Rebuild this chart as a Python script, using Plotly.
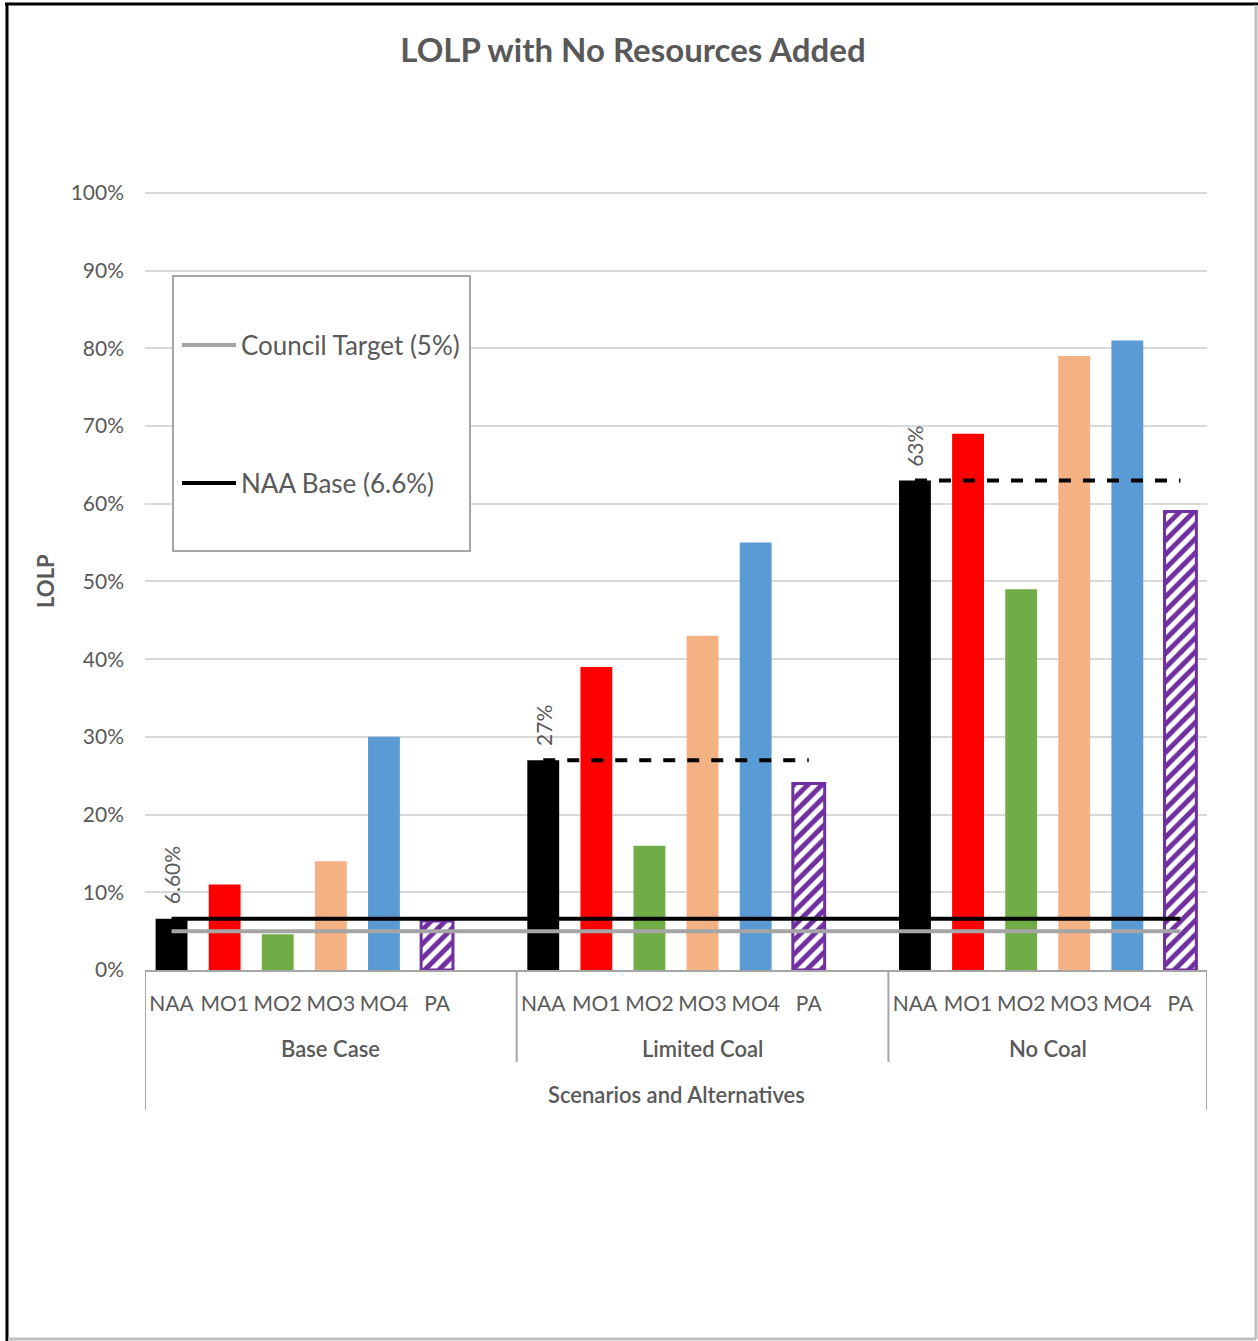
import plotly.graph_objects as go

# LOLP by scenario (Base Case, Limited Coal, No Coal) for each alternative
scenarios = ["Base Case", "Limited Coal", "No Coal"]
alternatives = ["NAA", "MO1", "MO2", "MO3", "MO4", "PA"]
naa = [0.066, 0.27, 0.63]
mo1 = [0.11, 0.39, 0.69]
mo2 = [0.046, 0.16, 0.49]
mo3 = [0.14, 0.43, 0.79]
mo4 = [0.30, 0.55, 0.81]
pa = [0.063, 0.24, 0.59]
series = [naa, mo1, mo2, mo3, mo4, pa]
colors = ["#000000", "#FF0000", "#70AD47", "#F4B183", "#5B9BD5", "#7030A0"]

council_target = 0.05
naa_base = 0.066
naa_label_text = ["6.60%", "27%", "63%"]

y_ticks = [i / 10 for i in range(11)]

FONT = "Lato"
GREY_TEXT = "#595959"
AXIS_GREY = "#A6A6A6"

W, H = 1258, 1341
M_L, M_R, M_T, M_B = 145, 51, 189, 371
PLOT_W = W - M_L - M_R
PLOT_H = H - M_T - M_B


def px(x_pix):
    """Pixel column -> paper x."""
    return (x_pix - M_L) / PLOT_W


def py(y_pix):
    """Pixel row -> paper y."""
    return (H - M_B - y_pix) / PLOT_H


# category slots: six alternatives per scenario, one empty slot between scenarios
slot = len(alternatives) + 1
def xpos(g, i):
    return g * slot + i

fig = go.Figure()

for i, (name, vals, col) in enumerate(zip(alternatives, series, colors)):
    xs = [xpos(g, i) for g in range(len(scenarios))]
    if name == "PA":
        marker = dict(color="white",
                      pattern=dict(shape="/", fgcolor=col, bgcolor="white", size=10,
                                   solidity=0.5, fgopacity=1),
                      line=dict(color=col, width=3))
    else:
        marker = dict(color=col, line=dict(width=0))
    fig.add_trace(go.Bar(x=xs, y=vals, name=name, marker=marker, width=0.6, showlegend=False))

x_first = xpos(0, 0)
x_last = xpos(len(scenarios) - 1, len(alternatives) - 1)

fig.add_trace(go.Scatter(x=[x_first, x_last], y=[council_target] * 2, mode="lines",
                         line=dict(color="#A5A5A5", width=4), name="Council Target (5%)",
                         showlegend=False))
fig.add_trace(go.Scatter(x=[x_first, x_last], y=[naa_base] * 2, mode="lines",
                         line=dict(color="#000000", width=4), name="NAA Base (6.6%)",
                         showlegend=False))

# dashed reference at each scenario's NAA level (Limited Coal and No Coal)
for g in (1, 2):
    fig.add_trace(go.Scatter(x=[xpos(g, 0), xpos(g, len(alternatives) - 1)], y=[naa[g]] * 2,
                             mode="lines", line=dict(color="#000000", width=4, dash="dash"),
                             showlegend=False))

# NAA value labels
for g in range(len(scenarios)):
    fig.add_annotation(x=xpos(g, 0), y=naa[g], xref="x", yref="y", text=naa_label_text[g],
                       textangle=-90, showarrow=False, yanchor="bottom", xanchor="center",
                       yshift=12, font=dict(family=FONT, size=21, color=GREY_TEXT))

# scenario group labels, centred under each group's slots
for g, s in enumerate(scenarios):
    last_slot = len(alternatives) if g < len(scenarios) - 1 else len(alternatives) - 1
    center = g * slot + last_slot / 2
    fig.add_annotation(x=center, y=py(1048), xref="x", yref="paper", text=s, showarrow=False,
                       font=dict(family=FONT, size=22, color=GREY_TEXT, weight=600),
                       yanchor="middle")

fig.add_annotation(x=0.5, y=py(1094), xref="paper", yref="paper", text="Scenarios and Alternatives",
                   showarrow=False, font=dict(family=FONT, size=22, color=GREY_TEXT, weight=600),
                   yanchor="middle")

fig.add_annotation(x=px(45), y=py(581), xref="paper", yref="paper", text="LOLP", textangle=-90,
                   showarrow=False, xanchor="center", yanchor="middle",
                   font=dict(family=FONT, size=22, color=GREY_TEXT, weight="bold"))

# group separators below the category axis
x_min, x_max = -0.5, x_last + 0.5
seps = [(x_min, 1110), (slot - 0.5, 1062), (2 * slot - 0.5, 1062), (x_max, 1110)]
for xv, y_end in seps:
    fig.add_shape(type="line", xref="x", yref="paper", x0=xv, x1=xv, y0=0, y1=py(y_end),
                  line=dict(color=AXIS_GREY, width=2))

# legend box
fig.add_shape(type="rect", xref="paper", yref="paper", x0=px(173), x1=px(470), y0=py(551), y1=py(276),
              line=dict(color=AXIS_GREY, width=2), fillcolor="white", layer="above")
legend_items = [("Council Target (5%)", "#A5A5A5", 345), ("NAA Base (6.6%)", "#000000", 483)]
for label, col, y_pix in legend_items:
    yy = py(y_pix)
    fig.add_shape(type="line", xref="paper", yref="paper", x0=px(182), x1=px(236), y0=yy, y1=yy,
                  line=dict(color=col, width=4), layer="above")
    fig.add_annotation(x=px(239), y=yy, xref="paper", yref="paper", text=label, showarrow=False,
                       xanchor="left", yanchor="middle",
                       font=dict(family=FONT, size=26, color=GREY_TEXT))

# outer frame: dark top/left edges, light right/bottom edges
fig.add_shape(type="line", xref="paper", yref="paper", x0=px(5), x1=px(1258), y0=py(4), y1=py(4),
              line=dict(color="black", width=3))
fig.add_shape(type="line", xref="paper", yref="paper", x0=px(7), x1=px(7), y0=py(3), y1=py(1341),
              line=dict(color="black", width=3))
fig.add_shape(type="line", xref="paper", yref="paper", x0=px(1256), x1=px(1256), y0=py(5), y1=py(1339),
              line=dict(color="#BFBFBF", width=3))
fig.add_shape(type="line", xref="paper", yref="paper", x0=px(8), x1=px(1256), y0=py(1339), y1=py(1339),
              line=dict(color="#BFBFBF", width=3))

tick_vals = [xpos(g, i) for g in range(len(scenarios)) for i in range(len(alternatives))]
tick_text = [a for _ in scenarios for a in alternatives]

fig.update_layout(
    width=W, height=H,
    margin=dict(l=M_L, r=M_R, t=M_T, b=M_B, autoexpand=False),
    paper_bgcolor="white", plot_bgcolor="white",
    barmode="overlay",
    title=dict(text="<b>LOLP with No Resources Added</b>", x=px(633), xref="paper", xanchor="center",
               y=1 - 50 / H, yanchor="middle",
               font=dict(family=FONT, size=33, color=GREY_TEXT)),
    xaxis=dict(range=[x_min, x_max], tickvals=tick_vals, ticktext=tick_text, showgrid=False,
               showline=True, linecolor=AXIS_GREY, linewidth=2, ticks="", zeroline=False,
               ticklabelstandoff=14, tickfont=dict(family=FONT, size=21, color=GREY_TEXT)),
    yaxis=dict(range=[0, 1.005], tickvals=y_ticks, tickformat=".0%", showgrid=True,
               gridcolor="#D9D9D9", gridwidth=2, zeroline=False, showline=False, ticks="",
               ticklabelstandoff=20, tickfont=dict(family=FONT, size=21, color=GREY_TEXT)),
    showlegend=False,
)

fig.write_html("out.html")
